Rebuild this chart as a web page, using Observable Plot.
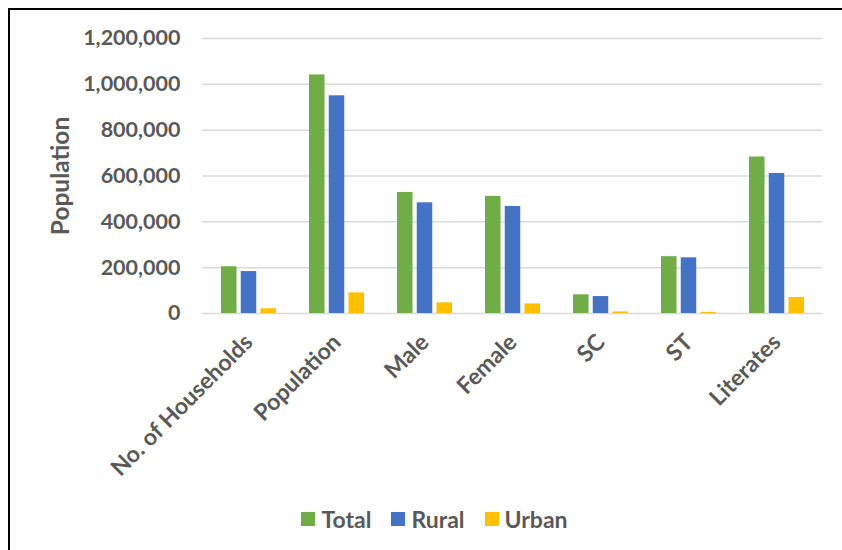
<!DOCTYPE html>
<html>
<head>
<meta charset="utf-8">
<script src="https://cdn.jsdelivr.net/npm/d3@7"></script>
<script src="https://cdn.jsdelivr.net/npm/@observablehq/plot@0.6"></script>
<style>
  html, body { margin: 0; padding: 0; background: #fff; }
  #wrap { position: relative; width: 842px; height: 550px; overflow: hidden; font-family: Lato, "Open Sans", sans-serif; }
  #frame { position: absolute; left: 8px; top: 8px; width: 900px; height: 600px; border-left: 2px solid #000; border-top: 2px solid #000; box-sizing: border-box; }
  #chart { position: absolute; left: 0; top: 0; }
  #chart svg { overflow: visible; }
  #chart svg g[aria-label^="x-axis"] text { font-size: 23px; }
  #ytitle { position: absolute; left: 59px; top: 176px; transform: translate(-50%, -50%) rotate(-90deg); font-size: 24.5px; font-weight: bold; color: #595959; white-space: nowrap; }
  #legend { position: absolute; left: 0; width: 869px; top: 505px; display: flex; justify-content: center; gap: 20px; font-size: 23px; font-weight: bold; color: #595959; }
  .item { display: flex; align-items: center; }
  .sw { width: 14px; height: 14px; margin-right: 6px; }
</style>
</head>
<body>
<div id="wrap">
  <div id="frame"></div>
  <div id="chart"></div>
  <div id="ytitle">Population</div>
  <div id="legend"></div>
</div>
<script>
const categories = ["No. of Households", "Population", "Male", "Female", "SC", "ST", "Literates"];
const seriesNames = ["Total", "Rural", "Urban"];
const seriesColors = ["#70AD47", "#4472C4", "#FFC000"];
const totalValues = [204000, 1041000, 528000, 511000, 81500, 248000, 683000];
const ruralValues = [183000, 950000, 483000, 467000, 74000, 243000, 611000];
const urbanValues = [20500, 90000, 46500, 42000, 7000, 5000, 70000];
const yTicks = [0, 200000, 400000, 600000, 800000, 1000000, 1200000];

const seriesValues = [totalValues, ruralValues, urbanValues];
const rows = categories.flatMap((c, i) =>
  seriesNames.map((s, j) => ({category: c, series: s, value: seriesValues[j][i]})));

const W = 842, H = 500, ML = 202, MR = 20, MT = 38, MB = 187;
const padIn = 0.38, padOut = 0.19, gap = 4.3;
const step = (W - ML - MR) / (categories.length - padIn + 2 * padOut);
const band = step * (1 - padIn);
const barW = (band - 2 * gap) / 3;

const bars = seriesNames.map((s, j) =>
  Plot.barY(rows.filter(d => d.series === s), {
    x: "category", y: "value", fill: seriesColors[j],
    insetLeft: j * (barW + gap), insetRight: (2 - j) * (barW + gap)
  }));

const chart = Plot.plot({
  width: W, height: H,
  marginLeft: ML, marginRight: MR, marginTop: MT, marginBottom: MB,
  style: {fontFamily: "Lato, 'Open Sans', sans-serif", fontSize: "21.5px", fontWeight: "bold", color: "#595959", background: "transparent"},
  x: {domain: categories, paddingInner: padIn, paddingOuter: padOut, tickSize: 0, tickPadding: 25, tickRotate: -45, label: null},
  y: {domain: [0, 1200000], ticks: yTicks, tickFormat: d3.format(","), tickSize: 0, tickPadding: 22, label: null},
  marks: [
    Plot.ruleY(yTicks, {stroke: "#D9D9D9", strokeWidth: 1.5}),
    ...bars
  ]
});
document.getElementById("chart").appendChild(chart);

const legend = document.getElementById("legend");
seriesNames.forEach((s, j) => {
  const item = document.createElement("div");
  item.className = "item";
  const sw = document.createElement("span");
  sw.className = "sw";
  sw.style.background = seriesColors[j];
  const t = document.createElement("span");
  t.textContent = s;
  item.appendChild(sw);
  item.appendChild(t);
  legend.appendChild(item);
});
</script>
</body>
</html>
